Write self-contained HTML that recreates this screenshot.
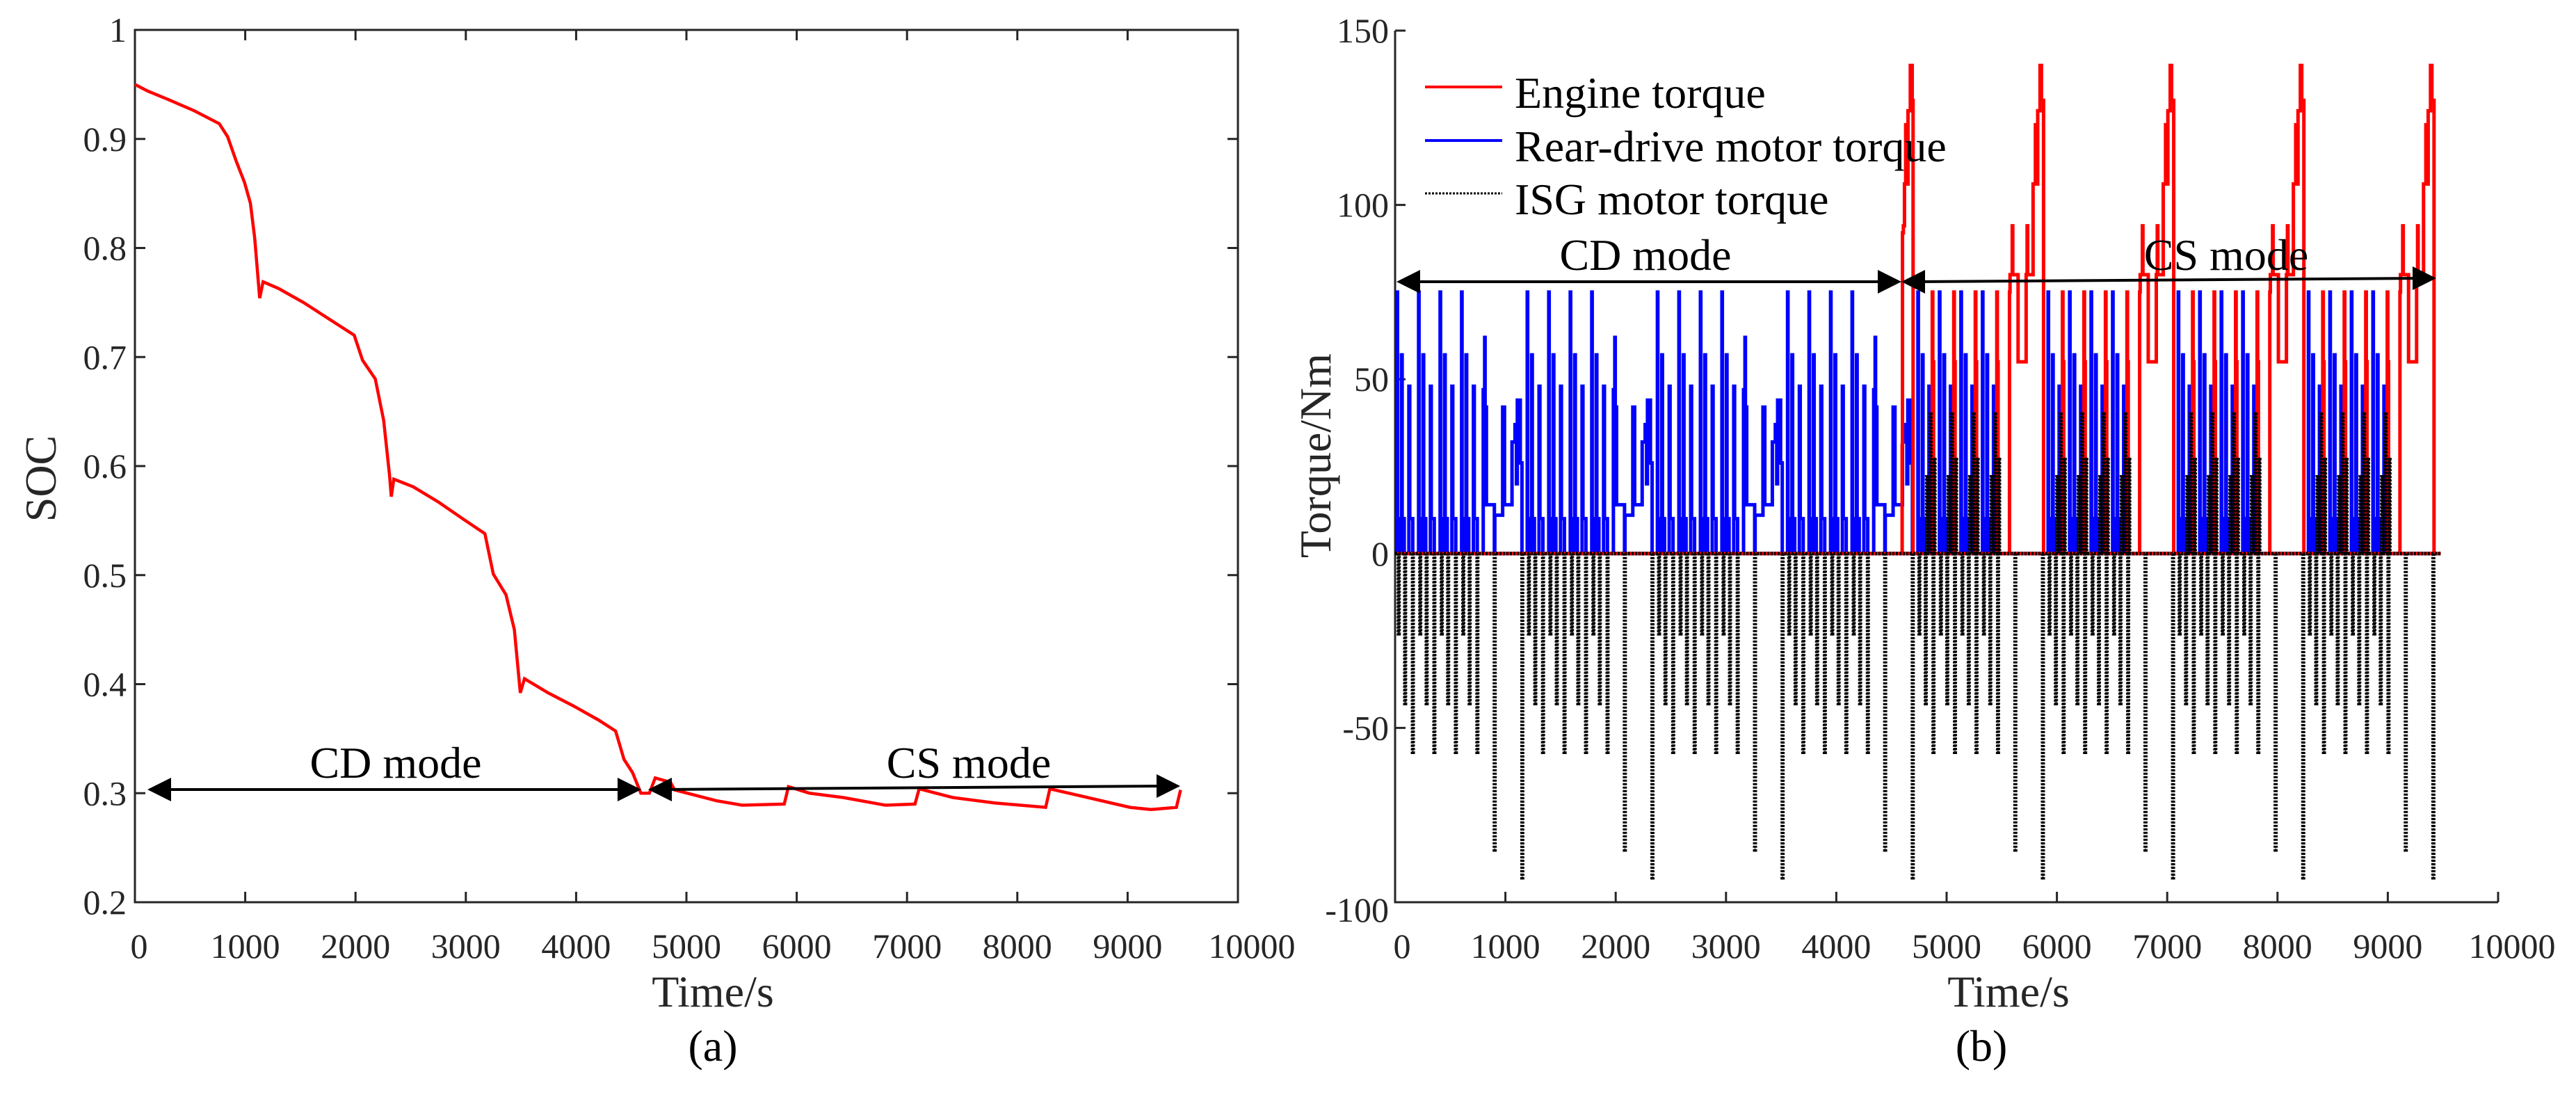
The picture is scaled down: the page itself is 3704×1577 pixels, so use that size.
<!DOCTYPE html>
<html><head><meta charset="utf-8"><style>
html,body{margin:0;padding:0;background:#fff;}
svg{display:block;}
svg text{font-family:"Liberation Serif","DejaVu Serif",serif;}
</style></head><body>
<svg id="fig" width="3704" height="1577" viewBox="0 0 3704 1577" xmlns="http://www.w3.org/2000/svg" font-family="Liberation Serif, serif">
<g id="pa"></g>
<g id="pb"></g>
</svg>
<script>
// ---- SOC chart data ----
const socTime = [0,115,306,535,765,841,917,994,1047,1086,1131,1162,1300,1529,1758,1988,2064,2179,2255,2309,2324,2347,2523,2752,2982,3173,3249,3364,3440,3494,3532,3746,3976,4205,4358,4434,4511,4587,4664,4717,4855,4893,5275,5505,5887,5925,6116,6422,6804,7072,7110,7416,7798,8257,8295,8639,9021,9213,9442,9480];
const socValue = [0.95,0.944,0.936,0.926,0.914,0.902,0.88,0.86,0.841,0.809,0.754,0.769,0.763,0.75,0.735,0.72,0.697,0.68,0.642,0.591,0.572,0.588,0.581,0.567,0.551,0.538,0.501,0.482,0.45,0.392,0.405,0.392,0.38,0.367,0.357,0.331,0.319,0.3,0.3,0.314,0.31,0.303,0.293,0.289,0.29,0.306,0.3,0.296,0.289,0.29,0.304,0.296,0.291,0.287,0.304,0.296,0.287,0.285,0.287,0.303];
const socYTicks = [0.2,0.3,0.4,0.5,0.6,0.7,0.8,0.9,1];
const socYLabels = ["0.2","0.3","0.4","0.5","0.6","0.7","0.8","0.9","1"];
const xTicks = [0,1000,2000,3000,4000,5000,6000,7000,8000,9000,10000];
const xLabels = ["0","1000","2000","3000","4000","5000","6000","7000","8000","9000","10000"];

// ---- Torque chart data (one NEDC cycle pattern, repeated) ----
const cycleStarts = [0,1180,2360,3540,4720,5900,7080,8260];
const cycleMode = ["CD","CD","CD","CD","CS","CS","CS","CS"];
const eceStarts = [0,195,390,585];
// pulses: [offset, peak, peakWidth, plateau, duration]
const blueEcePulses = [[18,75,4,10,14],[58,57,6,10,25],[125,48,8,10,35]];
const blueEcePulsesCS = [[20,75,4,10,14],[60,57,6,10,20],[120,48,6,10,22]];
const redEcePulsesCS = [[150,75,5,55,12]];
const isgEcePosCS = [[100,22,6],[132,40,6],[168,27,6]];
const isgEceNeg = [[30,-23,6],[88,-43,6],[158,-57,6]];
const blueEudcT = [795,799,803,812,816,824,828,849,900,904,968,975,992,1045,1060,1087,1100,1108,1128,1135,1150];
const blueEudcV = [0,47,20,62,25,42,14,14,0,11,11,42,14,14,32,37,20,44,44,26,0];
const redEudcT = [850,855,875,880,928,1001,1010,1015,1030,1064,1085,1095,1106,1120,1127,1140,1148,1159];
const redEudcV = [75,80,94,80,55,80,94,80,80,106,123,106,127,127,140,130,130,0];
const redFirstT = [1057,1060,1068,1078,1089,1100,1110,1131,1148,1156];
const redFirstV = [31,92,94,106,123,106,127,140,130,0];
const isgEudcNeg = [[900,-85,6],[1150,-93,6]];
const tqYTicks = [-100,-50,0,50,100,150];
const tqYLabels = ["-100","-50","0","50","100","150"];

const NS="http://www.w3.org/2000/svg";
function mk(parent,tag,attrs,text){const e=document.createElementNS(NS,tag);for(const k in attrs)e.setAttribute(k,attrs[k]);if(tag==='text')e.setAttribute('font-family','Liberation Serif, serif');if(text!==undefined)e.textContent=text;parent.appendChild(e);return e;}

// ===== Chart A =====
const A=document.getElementById('pa');
const ax0=194, ax1=1780, ay0=1297, ay1=43;
const axX=t=>ax0+(t/10000)*(ax1-ax0);
const axY=v=>ay0-(v-0.2)/0.8*(ay0-ay1);
let el;
el=mk(A,'rect',{x:ax0,y:ay1,width:ax1-ax0,height:ay0-ay1,fill:'none',stroke:'#262626','stroke-width':3});


socYTicks.forEach((v,i)=>{
  const y=axY(v);
  el=mk(A,'path',{d:`M${ax0} ${y}h15M${ax1} ${y}h-15`,stroke:'#262626','stroke-width':3});
  
  
  el=mk(A,'text',{x:182,y:y+17,'font-size':50,'text-anchor':'end',fill:'#262626'},socYLabels[i]);
  
  
});
xTicks.forEach((t,i)=>{
  const x=axX(t);
  el=mk(A,'path',{d:`M${x} ${ay0}v-15M${x} ${ay1}v15`,stroke:'#262626','stroke-width':3});
  
  
  el=mk(A,'text',{x:x+(i==0?6:0)+(i==10?20:0),y:1377,'font-size':50,'text-anchor':'middle',fill:'#262626'},xLabels[i]);
  
  
});
el=mk(A,'polyline',{points:socTime.map((t,i)=>axX(t)+','+axY(socValue[i])).join(' '),fill:'none',stroke:'#ff0000','stroke-width':4.5});


el=mk(A,'text',{x:1025,y:1447,'font-size':64,'text-anchor':'middle',fill:'#262626'},'Time/s');


el=mk(A,'text',{x:1025,y:1525,'font-size':64,'text-anchor':'middle',fill:'#000'},'(a)');


el=mk(A,'text',{x:0,y:0,'font-size':64,'text-anchor':'middle',fill:'#262626',transform:'translate(80 688) rotate(-90)'},'SOC');



function arrow(g,x1,y1,x2,y2,name){
  const e=mk(g,'g',{});
  
  
  mk(e,'line',{x1:x1+20,y1:y1,x2:x2-20,y2:y2,stroke:'#000','stroke-width':4});
  mk(e,'path',{d:`M${x1} ${y1}l34 -17v34z`,fill:'#000'});
  mk(e,'path',{d:`M${x2} ${y2}l-34 -17v34z`,fill:'#000'});
}
arrow(A,212,1135,922,1135,'cd-mode-arrow');
arrow(A,932,1135,1697,1130,'cs-mode-arrow');
el=mk(A,'text',{x:569,y:1118,'font-size':64,'text-anchor':'middle',fill:'#000'},'CD mode');


el=mk(A,'text',{x:1393,y:1118,'font-size':64,'text-anchor':'middle',fill:'#000'},'CS mode');



// ===== Chart B =====
const B=document.getElementById('pb');
const bx0=2006, bx1=3592, by0=1297, by1=44;
const bX=t=>bx0+(t/10000)*(bx1-bx0);
const bY=v=>by0-(v+100)/250*(by0-by1);
el=mk(B,'path',{d:`M${bx0} ${by1}V${by0}H${bx1}`,fill:'none',stroke:'#262626','stroke-width':3});


tqYTicks.forEach((v,i)=>{
  const y=bY(v);
  el=mk(B,'path',{d:`M${bx0} ${y}h15`,stroke:'#262626','stroke-width':3});
  
  
  el=mk(B,'text',{x:1997,y:y+(v==-100?28:17),'font-size':50,'text-anchor':'end',fill:'#262626'},tqYLabels[i]);
  
  
});
xTicks.forEach((t,i)=>{
  const x=bX(t);
  el=mk(B,'path',{d:`M${x} ${by0}v-15`,stroke:'#262626','stroke-width':3});
  
  
  el=mk(B,'text',{x:x+(i==0?10:0)+(i==10?20:0),y:1377,'font-size':50,'text-anchor':'middle',fill:'#262626'},xLabels[i]);
  
  
});

function stepD(T,V,base){
  let d=`M${bX(base+T[0])} ${bY(0)}`;let prev=0;
  for(let i=0;i<T.length;i++){const x=bX(base+T[i]);d+=`L${x} ${bY(prev)}L${x} ${bY(V[i])}`;prev=V[i];}
  return d;
}
function pulseD(p,base){
  return stepD([p[0],p[0]+p[2],p[0]+p[4]],[p[1],p[3],0],base);
}
function spikeD(s,base){return stepD([s[0],s[0]+s[2]],[s[1],0],base);}

let blueD=`M${bX(0)} ${bY(0)}H${bX(9480)}`, redD=`M${bX(0)} ${bY(0)}H${bX(9480)}`, blackD=`M${bX(0)} ${bY(0)}H${bX(9480)}`;
cycleStarts.forEach((cs,c)=>{
  eceStarts.forEach(es=>{
    const base=cs+es;
    if(cycleMode[c]==="CD"){ blueEcePulses.forEach(p=>blueD+=pulseD(p,base)); }
    else {
      blueEcePulsesCS.forEach(p=>blueD+=pulseD(p,base));
      redEcePulsesCS.forEach(p=>redD+=pulseD(p,base));
      isgEcePosCS.forEach(s=>blackD+=spikeD(s,base));
    }
    isgEceNeg.forEach(s=>blackD+=spikeD(s,base));
  });
  if(cycleMode[c]==="CD") blueD+=stepD(blueEudcT,blueEudcV,cs);
  if(c===3) redD+=stepD(redFirstT,redFirstV,cs);
  if(cycleMode[c]==="CS") redD+=stepD(redEudcT,redEudcV,cs);
  isgEudcNeg.forEach(s=>blackD+=spikeD(s,cs));
});
el=mk(B,'path',{d:blueD,fill:'none',stroke:'#0000ff','stroke-width':5});


el=mk(B,'path',{d:redD,fill:'none',stroke:'#ff0000','stroke-width':5});


el=mk(B,'path',{d:blackD,fill:'none',stroke:'#000','stroke-width':5,'stroke-dasharray':'3 2'});



arrow(B,2008,405,2734,405,'cd-mode-arrow');
arrow(B,2734,405,3503,400,'cs-mode-arrow');
el=mk(B,'text',{x:2366,y:388,'font-size':64,'text-anchor':'middle',fill:'#000'},'CD mode');


el=mk(B,'text',{x:3201,y:388,'font-size':64,'text-anchor':'middle',fill:'#000'},'CS mode');



// legend
const L=mk(B,'g',{});


const legNames=['Engine torque','Rear-drive motor torque','ISG motor torque'];
const legColors=['#ff0000','#0000ff','#000'];
const legY=[125,202,278];
legNames.forEach((n,i)=>{
  const g=mk(L,'g',{});
  
  
  mk(g,'line',{x1:2049,y1:legY[i],x2:2160,y2:legY[i],stroke:legColors[i],'stroke-width':i==2?3:4,'stroke-dasharray':i==2?'3 2':'none'});
  mk(g,'text',{x:2178,y:legY[i]+30,'font-size':64,fill:'#000'},n);
});
el=mk(B,'text',{x:2888,y:1447,'font-size':64,'text-anchor':'middle',fill:'#262626'},'Time/s');


el=mk(B,'text',{x:2849,y:1525,'font-size':64,'text-anchor':'middle',fill:'#000'},'(b)');


el=mk(B,'text',{x:0,y:0,'font-size':64,'text-anchor':'middle',fill:'#262626',transform:'translate(1913 655) rotate(-90)'},'Torque/Nm');


</script>
</body></html>
